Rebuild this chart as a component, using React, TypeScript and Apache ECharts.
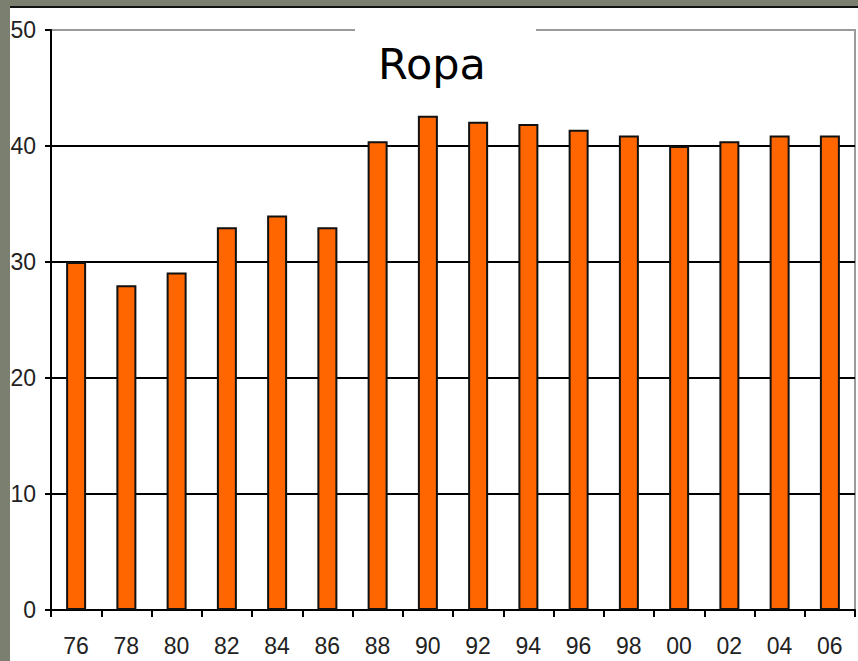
import React, { useEffect, useRef } from "react";
import * as echarts from "echarts";

const years = ["76", "78", "80", "82", "84", "86", "88", "90", "92", "94", "96", "98", "00", "02", "04", "06"];
const values = [30, 28, 29.1, 33, 34, 33, 40.4, 42.6, 42.1, 41.9, 41.4, 40.9, 40, 40.4, 40.9, 40.9];
const yTicks = { min: 0, max: 50, interval: 10 };
const titleText = "Ropa";

export default function App() {
  const ref = useRef<HTMLDivElement>(null);
  useEffect(() => {
    if (!ref.current) return;
    const chart = echarts.init(ref.current, undefined, { renderer: "svg" });
    const labelFont = "'Liberation Sans Narrow', 'Liberation Sans', sans-serif";
    chart.setOption({
      animation: false,
      backgroundColor: "#7b7f6f",
      graphic: [
        { type: "rect", z: -10, silent: true, shape: { x: 10, y: 6, width: 848, height: 2 }, style: { fill: "#111" } },
        { type: "rect", z: -10, silent: true, shape: { x: 10, y: 8, width: 848, height: 653 }, style: { fill: "#ffffff" } },
        { type: "rect", z: 50, silent: true, shape: { x: 355, y: 24, width: 181, height: 12 }, style: { fill: "#ffffff" } },
        {
          type: "text", z: 60, x: 432, y: 64,
          style: { text: titleText, fontFamily: "DejaVu Sans", fontSize: 43, fill: "#000", align: "center", verticalAlign: "middle" },
        },
      ],
      grid: {
        left: 51, right: 3, top: 30, bottom: 51,
        show: true, borderColor: "#9a9a9a", borderWidth: 2, backgroundColor: "transparent",
      },
      xAxis: {
        type: "category",
        data: years,
        axisLine: { lineStyle: { color: "#000", width: 2 } },
        axisTick: { show: true, length: 7, lineStyle: { color: "#000", width: 2 }, alignWithLabel: false },
        axisLabel: { color: "#222", fontFamily: labelFont, fontSize: 23, margin: 24 },
      },
      yAxis: {
        type: "value",
        min: yTicks.min, max: yTicks.max, interval: yTicks.interval,
        axisLine: { show: true, lineStyle: { color: "#000", width: 2 } },
        axisTick: { show: true, length: 6, lineStyle: { color: "#000", width: 2 } },
        axisLabel: { color: "#222", fontFamily: labelFont, fontSize: 23, margin: 15 },
        splitLine: { show: true, showMaxLine: false, lineStyle: { color: "#000", width: 2 } },
      },
      series: [
        {
          type: "bar",
          data: values,
          barWidth: 20,
          itemStyle: { color: "#ff6600", borderColor: "#111", borderWidth: 2 },
        },
      ],
    });
    return () => chart.dispose();
  }, []);
  return (
    <div style={{ position: "fixed", left: 0, top: 0, width: 858, height: 661 }}>
      <div ref={ref} style={{ width: 858, height: 661 }} />
    </div>
  );
}
